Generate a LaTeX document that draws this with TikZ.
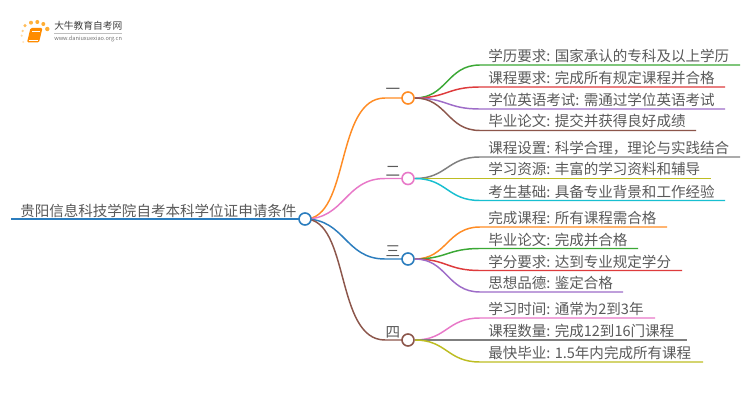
\documentclass[tikz,border=0pt]{standalone}
\usepackage{fontspec}
\setmainfont{Noto Sans CJK SC}
\definecolor{txt}{HTML}{5A5A5A}
\definecolor{cOr}{HTML}{FF8C24}
\definecolor{cPk}{HTML}{E878C8}
\definecolor{cBl}{HTML}{2B7DBE}
\definecolor{cBr}{HTML}{8C564B}
\definecolor{cGn}{HTML}{3BA835}
\definecolor{cRd}{HTML}{DE3B3C}
\definecolor{cPu}{HTML}{9E6CC8}
\definecolor{cGy}{HTML}{7F7F7F}
\definecolor{cYl}{HTML}{BDBD22}
\definecolor{cCy}{HTML}{18BFD0}
\tikzset{
  x=0.75pt,y=-0.75pt,
  leaftext/.style={anchor=base west,inner sep=0pt,text=txt,font=\fontsize{10.9pt}{12pt}\selectfont},
  hubtext/.style={anchor=base,inner sep=0pt,text=txt,font=\fontsize{10.9pt}{12pt}\selectfont},
  hub/.style={circle,draw=#1,fill=white,line width=1.2pt,minimum size=9pt,inner sep=0pt},
  conn/.style={draw=#1,line width=1.1pt,line cap=round},
}
\newcommand{\leafline}[6]{%
  \coordinate (#1s) at (480,#4);
  \coordinate (#1e) at (#5,#4);
  \path[draw=#2,line width=1.1pt] (#3.east) .. controls (447,\hubY) and (447,#4) .. (#1s) -- (#1e);
  \node[leaftext] (#1) at (488,#4-3.5) {#6};
}
\begin{document}
\begin{tikzpicture}
\useasboundingbox (0,0) rectangle (750,410);
\fill[white] (0,0) rectangle (750,410);

% logo
\foreach \px/\py/\pr/\po in {23.3/42/1.1/.25,21.7/35.7/1.2/.35,22.7/31/1.3/.45,25/25.7/1.7/.65,31/22.7/2/.75,37.3/22/2/.8,43.3/24/2/.8,47.3/29/2.2/.8}
  \fill[orange!80!yellow,opacity=\po] (\px,\py) circle (\pr);
\fill[orange!90!yellow,rounded corners=1pt] (30.5,28) -- (42.5,28) -- (39,42.5) -- (27,42.5) -- cycle;
\draw[white,line width=.5pt] (32,31) -- (40,31);
\draw[white,line width=.5pt] (28.5,40) -- (38,40);
\node[anchor=base west,inner sep=0pt,text=black!75,font=\fontsize{7.3pt}{8pt}\selectfont] (logoa) at (54,30) {大牛教育自考网};
\draw[black!25,line width=.4pt] (54,33.5) -- (122,33.5);
\node[anchor=base west,inner sep=0pt,text=black!55,font=\fontsize{4.2pt}{5pt}\selectfont] (logob) at (54,41) {www.daniuxuexiao.org.cn};

% root
\node[leaftext] (root) at (20,216) {贵阳信息科技学院自考本科学位证申请条件};
\coordinate (rootl) at (11,219);
\coordinate (rootc) at (305,219);

% hubs
\coordinate (a) at (408,98);
\coordinate (b) at (408,178.5);
\coordinate (c) at (408,259);
\coordinate (d) at (408,340);

\draw[conn=cOr] (rootc) .. controls (350,219) and (335,98) .. (385,98) -- (a);
\draw[conn=cPk] (rootc) .. controls (345,219) and (345,178.5) .. (385,178.5) -- (b);
\draw[conn=cBl] (rootc) .. controls (345,219) and (345,259) .. (385,259) -- (c);
\draw[conn=cBr] (rootc) .. controls (350,219) and (335,340) .. (385,340) -- (d);
\draw[cBl,line width=1.3pt] (rootl) -- (rootc);

\node[hubtext] (ta) at (393,95) {一};
\node[hubtext] (tb) at (393,176) {二};
\node[hubtext] (tc) at (393,256.5) {三};
\node[hubtext] (td) at (393,337) {四};

\node[hub=cOr] (ha) at (a) {};
\node[hub=cPk] (hb) at (b) {};
\node[hub=cBl] (hc) at (c) {};
\node[hub=cBr] (hd) at (d) {};
\node[hub=cBl] (hr) at (rootc) {};

\def\hubY{98}
\leafline{l1}{cGn}{ha}{65}{740}{学历要求: 国家承认的专科及以上学历}
\leafline{l2}{cRd}{ha}{87}{725}{课程要求: 完成所有规定课程并合格}
\leafline{l3}{cPu}{ha}{109}{725}{学位英语考试: 需通过学位英语考试}
\leafline{l4}{cBr}{ha}{130.5}{696}{毕业论文: 提交并获得良好成绩}

\def\hubY{178.5}
\leafline{m1}{cGy}{hb}{157}{740}{课程设置: 科学合理，理论与实践结合}
\leafline{m2}{cYl}{hb}{178.5}{711}{学习资源: 丰富的学习资料和辅导}
\leafline{m3}{cCy}{hb}{200.5}{725}{考生基础: 具备专业背景和工作经验}

\def\hubY{259}
\leafline{n1}{cOr}{hc}{227}{667}{完成课程: 所有课程需合格}
\leafline{n2}{cGn}{hc}{248.5}{638}{毕业论文: 完成并合格}
\leafline{n3}{cRd}{hc}{270.5}{682}{学分要求: 达到专业规定学分}
\leafline{n4}{cPu}{hc}{292}{623}{思想品德: 鉴定合格}

\def\hubY{340}
\leafline{p1}{cPk}{hd}{318}{655}{学习时间: 通常为2到3年}
\leafline{p2}{cGy}{hd}{340}{687}{课程数量: 完成12到16门课程}
\leafline{p3}{cYl}{hd}{362}{703}{最快毕业: 1.5年内完成所有课程}
\end{tikzpicture}
\end{document}
